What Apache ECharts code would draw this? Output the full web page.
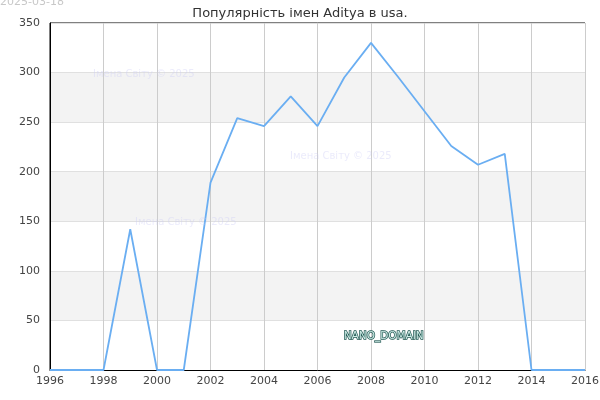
<!DOCTYPE html>
<html><head><meta charset="utf-8">
<script src="https://cdn.jsdelivr.net/npm/echarts@6/dist/echarts.min.js"></script>
<style>html,body{margin:0;padding:0;background:#fff}#c{width:600px;height:400px}</style>
</head><body><div id="c"></div>
<script>
var years = [1996,1997,1998,1999,2000,2001,2002,2003,2004,2005,2006,2007,2008,2009,2010,2011,2012,2013,2014,2015,2016];
var counts = [0,0,0,142,0,0,189,254,246,276,246,295,330,296,261,226,207,218,0,0,0];
var titleText = 'Популярність імен Aditya в usa.';
var dateText = '2025-03-18';
var watermark = 'Імена Світу © 2025';
var brand = 'NANO_DOMAIN';

var chart = echarts.init(document.getElementById('c'));
var font = 'DejaVu Sans';
chart.setOption({
  animation: false,
  textStyle: {fontFamily: font},
  title: {text: titleText, left: 'center', top: 2, textStyle: {fontFamily: font, fontSize: 13, fontWeight: 'normal', color: '#333'}},
  grid: {left: 50, right: 15, top: 23, bottom: 30, show: true, borderColor: '#000', borderWidth: 1, backgroundColor: 'transparent', containLabel: false, outerBoundsMode: 'none'},
  xAxis: {type: 'value', min: 1996, max: 2016, interval: 2,
    axisLine: {show: true, lineStyle: {color: '#000'}},
    axisTick: {show: false},
    axisLabel: {color: '#444', fontSize: 11, margin: 6, fontFamily: font, formatter: function(v){ return String(v); }},
    splitLine: {show: true, lineStyle: {color: '#cccccc'}}},
  yAxis: {type: 'value', min: 0, max: 350, interval: 50,
    axisLine: {show: true, lineStyle: {color: '#000'}},
    axisTick: {show: false},
    axisLabel: {color: '#444', fontSize: 11, margin: 10, fontFamily: font},
    splitLine: {show: true, lineStyle: {color: '#e0e0e0'}},
    splitArea: {show: true, areaStyle: {color: ['#ffffff', '#f3f3f3']}}},
  graphic: {elements: [
    {type: 'text', z: 100, left: 0, top: -3, style: {text: dateText, fill: '#c8c8c8', font: '11px ' + font}},
    {type: 'text', z: 100, left: 93, top: 69, style: {text: watermark, fill: 'rgba(205,205,245,0.4)', font: '10px ' + font}},
    {type: 'text', z: 100, left: 290, top: 151, style: {text: watermark, fill: 'rgba(205,205,245,0.4)', font: '10px ' + font}},
    {type: 'text', z: 100, left: 135, top: 217, style: {text: watermark, fill: 'rgba(205,205,245,0.4)', font: '10px ' + font}},
    {type: 'text', z: 100, left: 343, top: 330, style: {text: brand, fill: '#cfeee8', stroke: '#255a55', lineWidth: 1.5, font: '10.5px ' + font}}
  ]},
  series: [{type: 'line', data: years.map(function(y, i){ return [y, counts[i]]; }),
    showSymbol: false, symbol: 'none', z: 5,
    lineStyle: {color: '#6aaef2', width: 1.8}}]
});
</script></body></html>
